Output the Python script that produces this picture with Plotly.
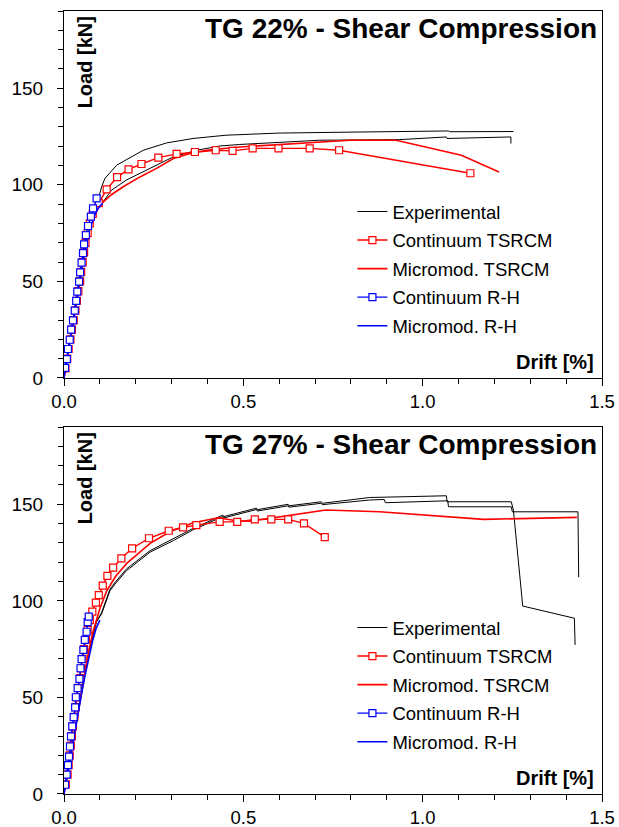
import plotly.graph_objects as go

FONT = "Liberation Sans, Arial, sans-serif"

# ---------------- TG 22% ----------------
exp22_x = [0, 0.01, 0.02, 0.03, 0.04, 0.05, 0.06, 0.07, 0.08, 0.09, 0.096, 0.105, 0.114, 0.147,
           0.179, 0.221, 0.286, 0.36, 0.452, 0.6, 0.8, 0.936, 1.073, 1.075, 1.253,
           None,
           0, 0.01, 0.02, 0.03, 0.04, 0.05, 0.06, 0.07, 0.08, 0.09, 0.1095, 0.133, 0.174, 0.249,
           0.305, 0.37, 0.434, 0.49, 0.713, 0.936, 1.066, 1.068, 1.246, 1.246]
exp22_y = [0, 12, 25, 37, 49, 60, 70, 78, 84, 89, 93, 99, 103.3, 110.2,
           113.6, 117.9, 121.7, 124, 125.7, 126.8, 127.3, 127.6, 127.9, 127.5, 127.6,
           None,
           0, 10, 22, 34, 46, 57, 67, 75, 81.5, 86.5, 91.2, 97.3, 102.5, 109.3,
           114.5, 117.9, 120.1, 120.9, 123.1, 123.4, 124.8, 124, 124.8, 121.4]

cont_tsrcm22_x = [0.004, 0.009, 0.013, 0.018, 0.022, 0.027, 0.032, 0.036, 0.040, 0.045, 0.048,
                  0.052, 0.056, 0.060, 0.066, 0.072, 0.080, 0.097, 0.119, 0.148, 0.18, 0.216,
                  0.263, 0.314, 0.365, 0.423, 0.47, 0.526, 0.598, 0.685, 0.767, 1.133]
cont_tsrcm22_y = [5, 10, 15, 20, 25, 30, 35, 40, 45, 50, 55,
                  60, 65, 70, 75, 80, 85, 90.5, 97.6, 104, 108, 110.8,
                  114.1, 116, 117, 117.9, 117.6, 118.9, 118.9, 118.9, 117.9, 106]

micro_tsrcm22_x = [0, 0.01, 0.02, 0.03, 0.04, 0.05, 0.06, 0.07, 0.08, 0.09, 0.1, 0.12, 0.133,
                   0.165, 0.212, 0.258, 0.305, 0.351, 0.397, 0.49, 0.713, 0.797, 0.926, 1.108, 1.213]
micro_tsrcm22_y = [0, 10, 22, 34, 46, 57, 67, 75, 81, 86, 89.5, 93, 95,
                   99, 104.1, 108.5, 113.6, 116.2, 117.9, 119.6, 121.9, 123.1, 123.1, 115.3, 106.7]

cont_rh22_x = [0.003, 0.008, 0.011, 0.016, 0.020, 0.025, 0.030, 0.034, 0.037, 0.042, 0.045,
               0.049, 0.053, 0.056, 0.061, 0.067, 0.075, 0.081, 0.091]
cont_rh22_y = [5.2, 9.8, 15, 19.8, 25, 29.8, 34.9, 39.9, 44.7, 49.9, 54.7,
               59.7, 64.6, 69.2, 74, 78.7, 83.5, 87.8, 93]

micro_rh22_x = [0, 0.01, 0.02, 0.03, 0.04, 0.05, 0.06, 0.07, 0.08, 0.09, 0.1, 0.108]
micro_rh22_y = [0, 11, 23, 35, 47, 58, 68, 76.5, 82, 86.3, 89, 90.5]

# ---------------- TG 27% ----------------
exp27_x = [0, 0.01, 0.02, 0.03, 0.04, 0.05, 0.06, 0.07, 0.08, 0.09, 0.105, 0.128, 0.142, 0.174,
           0.24, 0.305, 0.36, 0.443, 0.445, 0.537, 0.539, 0.625, 0.627, 0.717, 0.72, 0.852,
           1.066, 1.068, 1.247, 1.253, 1.279, 1.423, 1.425,
           None,
           0, 0.01, 0.02, 0.03, 0.04, 0.05, 0.06, 0.07, 0.08, 0.09, 0.105, 0.128, 0.142, 0.174,
           0.24, 0.305, 0.36, 0.443, 0.445, 0.537, 0.539, 0.625, 0.627, 0.717, 0.72, 0.852,
           0.893, 0.896, 1.07, 1.072, 1.247, 1.25, 1.433, 1.435]
exp27_y = [0, 11, 22, 33, 44, 55, 65, 74, 82, 89, 94, 106, 109.5, 116.5,
           126, 132, 137.5, 144.4, 143.6, 148, 147.2, 150, 149.2, 151.3, 150.5, 153.5,
           154.4, 151.3, 151.3, 147, 97.3, 91, 77.2,
           None,
           0, 11, 22, 33, 44, 55, 65, 74, 82, 89, 93.3, 105.2, 108.6, 115.6,
           125.2, 131.2, 136.8, 143.6, 142.9, 147.3, 146.5, 149.2, 148.5, 150.5, 149.8, 152.2,
           152.5, 150.8, 151.8, 148.7, 148.7, 146.1, 146.1, 112.2]

cont_tsrcm27_x = [0.005, 0.01, 0.013, 0.016, 0.019, 0.022, 0.025, 0.029, 0.033, 0.036, 0.040,
                  0.045, 0.048, 0.052, 0.056, 0.061, 0.066, 0.072, 0.079, 0.089, 0.097, 0.108,
                  0.121, 0.137, 0.16, 0.19, 0.237, 0.292, 0.332, 0.369, 0.434, 0.483, 0.532,
                  0.578, 0.625, 0.669, 0.727]
cont_tsrcm27_y = [5, 10, 15, 20, 25, 30, 35, 40, 45, 50, 55,
                  60, 65, 70, 75, 80, 85, 90, 94.4, 99.1, 103, 107.9,
                  112.9, 117.2, 122, 127.2, 132.4, 136.3, 138, 139.2, 140.9, 140.9, 142.2,
                  142.2, 142.2, 140.1, 133]

micro_tsrcm27_x = [0, 0.01, 0.02, 0.03, 0.04, 0.05, 0.06, 0.07, 0.08, 0.09, 0.1, 0.12, 0.145,
                   0.175, 0.24, 0.295, 0.36, 0.43, 0.48, 0.52, 0.63, 0.73, 0.88, 1.17, 1.43]
micro_tsrcm27_y = [0, 11, 22, 33, 44, 55, 65.5, 75, 83.5, 90.5, 96, 105.5, 113,
                   119.4, 129.8, 135.8, 140.4, 143, 141.5, 141.3, 144.4, 147, 146.1, 142.2, 143.2]

cont_rh27_x = [0.003, 0.0075, 0.011, 0.014, 0.0167, 0.0195, 0.023, 0.027, 0.031, 0.033, 0.038,
               0.043, 0.046, 0.049, 0.054, 0.058, 0.063, 0.066, 0.069]
cont_rh27_y = [4.8, 10, 15, 19.4, 24.6, 29.8, 35, 39.8, 44.8, 50.1, 54.8,
               59.6, 65.1, 69.8, 74.6, 79.8, 84, 89, 91.8]

micro_rh27_x = [0, 0.01, 0.02, 0.03, 0.04, 0.05, 0.06, 0.07, 0.08, 0.09, 0.1]
micro_rh27_y = [0, 11, 22, 33, 43.5, 53, 62.5, 71.5, 79.5, 86, 90]

panel_titles = ["TG 22% - Shear Compression", "TG 27% - Shear Compression"]
legend_names = ["Experimental", "Continuum TSRCM", "Micromod. TSRCM", "Continuum R-H", "Micromod. R-H"]
x_ticks = [0, 0.5, 1.0, 1.5]
y_ticks = [0, 50, 100, 150]

RED = "rgb(255,0,0)"
BLUE = "rgb(0,0,255)"

panels = [
    dict(xa="x", ya="y", leg="legend",
         exp=(exp22_x, exp22_y), ct=(cont_tsrcm22_x, cont_tsrcm22_y),
         mt=(micro_tsrcm22_x, micro_tsrcm22_y), cr=(cont_rh22_x, cont_rh22_y),
         mr=(micro_rh22_x, micro_rh22_y)),
    dict(xa="x2", ya="y2", leg="legend2",
         exp=(exp27_x, exp27_y), ct=(cont_tsrcm27_x, cont_tsrcm27_y),
         mt=(micro_tsrcm27_x, micro_tsrcm27_y), cr=(cont_rh27_x, cont_rh27_y),
         mr=(micro_rh27_x, micro_rh27_y)),
]

fig = go.Figure()
for i, p in enumerate(panels):
    common = dict(xaxis=p["xa"], yaxis=p["ya"], legend=p["leg"])
    # drawing order: experimental, micro-models, then continuum squares on top
    fig.add_trace(go.Scatter(x=p["exp"][0], y=p["exp"][1], mode="lines", name=legend_names[0],
                             line=dict(color="black", width=1), legendrank=1,
                             legendgroup=f"p{i}a", **common))
    fig.add_trace(go.Scatter(x=p["mt"][0], y=p["mt"][1], mode="lines", name=legend_names[2],
                             line=dict(color=RED, width=1.6), legendrank=3,
                             legendgroup=f"p{i}c", **common))
    fig.add_trace(go.Scatter(x=p["ct"][0], y=p["ct"][1], mode="lines+markers", name=legend_names[1],
                             line=dict(color=RED, width=1.4),
                             marker=dict(symbol="square", size=7, color="white",
                                         line=dict(color=RED, width=1.2)),
                             legendrank=2, legendgroup=f"p{i}b", **common))
    fig.add_trace(go.Scatter(x=p["mr"][0], y=p["mr"][1], mode="lines", name=legend_names[4],
                             line=dict(color=BLUE, width=1.6), legendrank=5,
                             legendgroup=f"p{i}e", **common))
    fig.add_trace(go.Scatter(x=p["cr"][0], y=p["cr"][1], mode="lines+markers", name=legend_names[3],
                             line=dict(color=BLUE, width=1.4),
                             marker=dict(symbol="square", size=7, color="white",
                                         line=dict(color=BLUE, width=1.2)),
                             legendrank=4, legendgroup=f"p{i}d", **common))


def main_x(domain_anchor):
    return dict(range=[0, 1.5], tickvals=x_ticks, tickformat=".1f", ticks="outside", ticklen=7,
                tickwidth=1, tickcolor="black", showline=True, linecolor="black", linewidth=1,
                mirror=True, showgrid=False, zeroline=False,
                tickfont=dict(family=FONT, size=18.5, color="black"),
                ticklabelstandoff=0, anchor=domain_anchor, automargin=False,
                minor=dict(ticks="outside", ticklen=5, dtick=0.1, tickcolor="black", showgrid=False))


def main_y(domain, anchor):
    return dict(range=[0, 190], tickvals=y_ticks, ticks="outside", ticklen=6, tickwidth=1,
                tickcolor="black", showline=True, linecolor="black", linewidth=1, mirror=True,
                showgrid=False, zeroline=False,
                tickfont=dict(family=FONT, size=19, color="black"), ticklabelstandoff=10,
                domain=domain, anchor=anchor, automargin=False,
                minor=dict(ticks="outside", ticklen=5, dtick=10, tickcolor="black", showgrid=False))


def inner_x(over, anchor):
    return dict(range=[0, 1.5], tickvals=x_ticks, ticks="inside", ticklen=5, tickwidth=1,
                tickcolor="black", showticklabels=False, showline=False, showgrid=False,
                zeroline=False, overlaying=over, anchor=anchor, automargin=False)


def inner_y(over, anchor):
    return dict(range=[0, 190], tickvals=y_ticks, ticks="inside", ticklen=6, tickwidth=1,
                tickcolor="black", showticklabels=False, showline=False, showgrid=False,
                zeroline=False, overlaying=over, anchor=anchor, automargin=False)


top_dom = [0.5313, 1.0]
bot_dom = [0.0, 0.4687]


def legend_box(ypos):
    return dict(x=0.5361, y=ypos, xanchor="left", yanchor="top", bgcolor="rgba(0,0,0,0)",
                borderwidth=0, font=dict(family=FONT, size=18.5, color="black"),
                traceorder="grouped", tracegroupgap=1.5, itemwidth=30)


annotations = []
for k, ref in enumerate([("x domain", "y domain"), ("x2 domain", "y2 domain")]):
    xr, yr = ref
    annotations.append(dict(xref=xr, yref=yr, x=0.9935, y=0.951, xanchor="right", yanchor="middle",
                            text=f"<b>{panel_titles[k]}</b>", showarrow=False,
                            font=dict(family=FONT, size=28, color="black")))
    annotations.append(dict(xref=xr, yref=yr, x=0.039, y=0.86, xanchor="center", yanchor="middle",
                            text="<b>Load [kN]</b>", textangle=-90, showarrow=False,
                            font=dict(family=FONT, size=20, color="black")))
    annotations.append(dict(xref=xr, yref=yr, x=0.989, y=0.0436, xanchor="right", yanchor="middle",
                            text="<b>Drift [%]</b>", showarrow=False,
                            font=dict(family=FONT, size=20, color="black")))

fig.update_layout(
    width=619, height=827,
    margin=dict(l=64, r=17, t=11, b=33, autoexpand=False),
    paper_bgcolor="white", plot_bgcolor="white",
    font=dict(family=FONT, color="black"),
    xaxis=main_x("y"),
    yaxis=main_y(top_dom, "x"),
    xaxis2=main_x("y2"),
    yaxis2=main_y(bot_dom, "x2"),
    xaxis3=inner_x("x", "y"),
    yaxis3=dict(inner_y("y", "x"), domain=top_dom),
    xaxis4=inner_x("x2", "y2"),
    yaxis4=dict(inner_y("y2", "x2"), domain=bot_dom),
    legend=legend_box(0.7676),
    legend2=legend_box(0.2363),
    annotations=annotations,
)

fig.write_html("out.html")
